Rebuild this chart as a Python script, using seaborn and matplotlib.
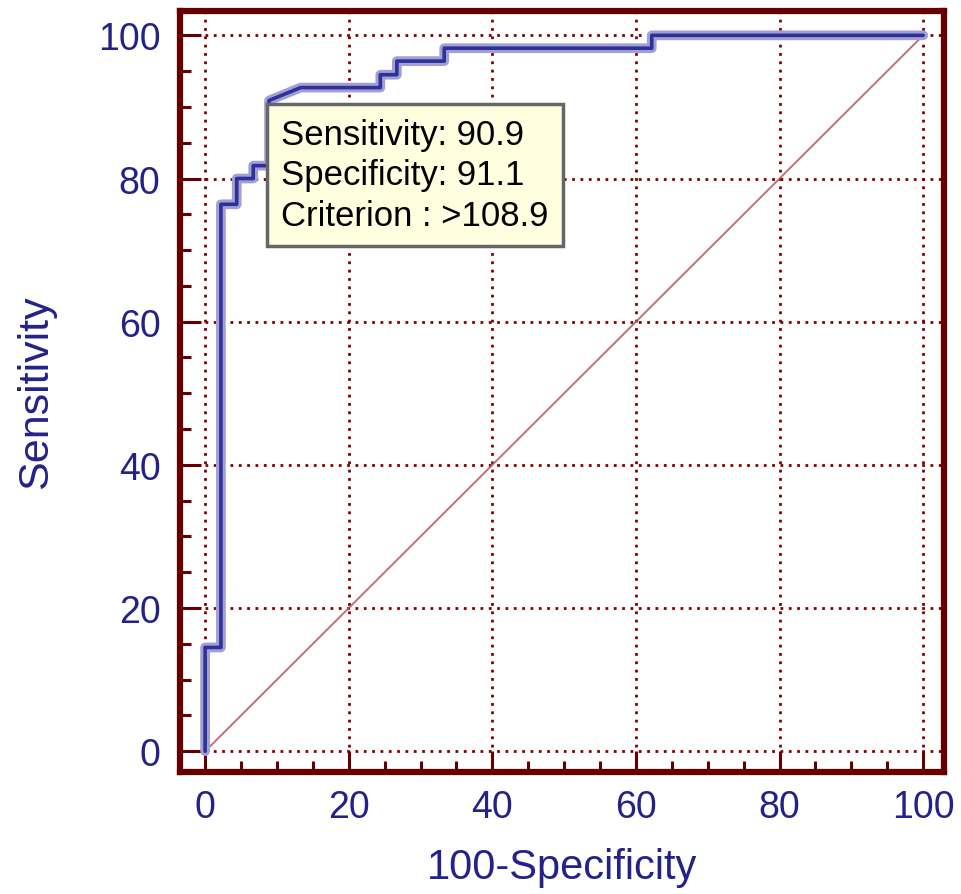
import matplotlib
matplotlib.use("Agg")
import matplotlib.pyplot as plt
import seaborn as sns
import pandas as pd
from matplotlib.ticker import MultipleLocator


# ROC DATA
fpr = [0, 0, 2.2, 2.2, 4.4, 4.4, 6.7, 6.7, 8.9, 8.9, 13.3, 24.4, 24.4,
       26.7, 26.7, 33.3, 33.3, 62.2, 62.2, 100]
tpr = [0, 14.5, 14.5, 76.4, 76.4, 80.0, 80.0, 81.8, 81.8, 90.9, 92.7, 92.7,
       94.5, 94.5, 96.4, 96.4, 98.2, 98.2, 100, 100]
diag = [0, 100]

box_lines = ["Sensitivity: 90.9", "Specificity: 91.1", "Criterion : >108.9"]

roc = pd.DataFrame({"x": fpr, "y": tpr})
ref = pd.DataFrame({"x": diag, "y": diag})


# STYLE
sns.set_style("white")
plt.rcParams['font.family'] = ['Liberation Sans', 'DejaVu Sans']

frame = "#660000"
grid_c = "#800000"
text_c = "#22228a"


fig = plt.figure(figsize=(9.61, 8.95), dpi=100)
ax = fig.add_axes([0.1873, 0.1363, 0.795, 0.8503])

# diagonal reference line
sns.lineplot(data=ref, x="x", y="y", ax=ax, color="#b05a5a",
             linewidth=1.4, alpha=0.85, zorder=2)

# ROC curve: light halo under dark line
sns.lineplot(data=roc, x="x", y="y", ax=ax, sort=False, estimator=None,
             color="#a0a0d4", linewidth=7, zorder=3)
sns.lineplot(data=roc, x="x", y="y", ax=ax, sort=False, estimator=None,
             color="#30309a", linewidth=2.6, zorder=4)

ax.set_xlim(-3.5, 102.9)
ax.set_ylim(-2.9, 103.4)

ax.xaxis.set_major_locator(MultipleLocator(20))
ax.xaxis.set_minor_locator(MultipleLocator(5))
ax.yaxis.set_major_locator(MultipleLocator(20))
ax.yaxis.set_minor_locator(MultipleLocator(5))

ax.grid(True, which="major", color=grid_c, linestyle=(0, (1, 2)),
        linewidth=2.0)
ax.set_axisbelow(True)

for s in ax.spines.values():
    s.set_color(frame)
    s.set_linewidth(4.5)
    s.set_visible(True)

ax.tick_params(which="major", direction="in", length=15, width=2.2,
               color=frame, labelsize=27, labelcolor=text_c, pad=12,
               left=True, bottom=True)
ax.tick_params(which="minor", direction="in", length=8, width=2.2,
               color=frame, left=True, bottom=True)
ax.tick_params(axis="y", pad=14)

ax.set_xlabel("100-Specificity", fontsize=30, color=text_c, labelpad=16)
ax.set_ylabel("Sensitivity", fontsize=31, color=text_c, labelpad=30)

# annotation box
ax.text(10.6, 88.5, "\n".join(box_lines), fontsize=25, color="black",
        ha="left", va="top", linespacing=1.3, zorder=6,
        bbox=dict(boxstyle="square,pad=0.4", fc="#ffffe0", ec="#666666",
                  lw=2.5))

plt.savefig("out.png", dpi=100)
